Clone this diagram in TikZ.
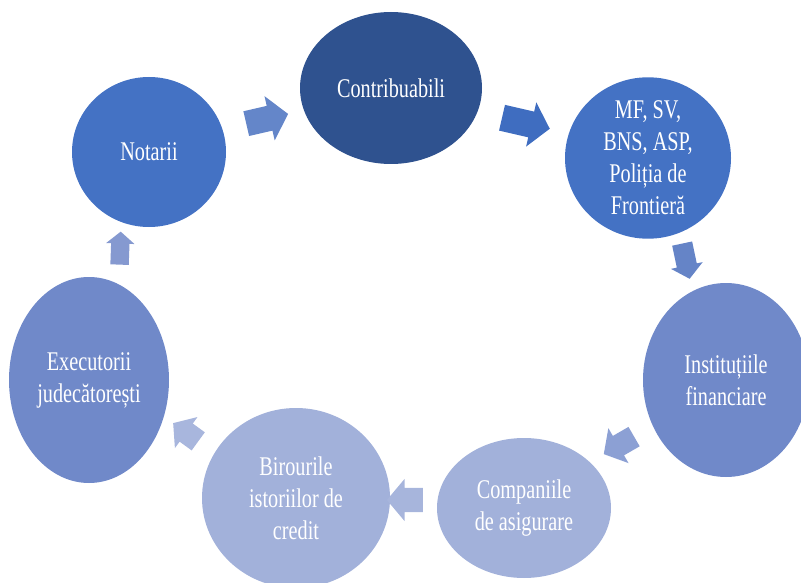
\documentclass[tikz,border=0pt]{standalone}
\usepackage{fontspec}
\newfontfamily\lab[FakeStretch=0.75]{Liberation Serif}
\usetikzlibrary{shapes.geometric,shapes.arrows,calc}
\definecolor{cDark}{HTML}{2F528F}
\definecolor{cMid}{HTML}{4472C4}
\definecolor{cSoft}{HTML}{7089C9}
\definecolor{cPale}{HTML}{A2B1DA}
\definecolor{aOne}{HTML}{6486C9}
\definecolor{aTwo}{HTML}{3F6DC0}
\definecolor{aThree}{HTML}{6584C7}
\definecolor{aFour}{HTML}{8CA0D4}
\definecolor{aFive}{HTML}{A7B5DC}
\definecolor{aSix}{HTML}{A8B6DD}
\definecolor{aSeven}{HTML}{8599D0}
\begin{document}
\begin{tikzpicture}[x=1pt,y=-1pt,
  bubble/.style={ellipse, inner sep=0pt, align=center, text=white,
    font=\lab\fontsize{27}{32}\selectfont},
  blockarrow/.style n args={4}{single arrow, draw=none, fill=#4,
    inner xsep=0pt, inner ysep=#3/2, minimum height=#1, minimum width=#2,
    single arrow head extend={(#2-#3)/2}, single arrow head indent=0pt,
    single arrow tip angle=100}]
\useasboundingbox (0,0) rectangle (801,583);
\clip (0,0) rectangle (801,583);
\node[bubble, fill=cMid,  minimum width=154, minimum height=150] (not) at (149,152) {Notarii};
\node[bubble, fill=cDark, minimum width=182, minimum height=152] (con) at (391,88) {Contribuabili};
\node[bubble, fill=cMid,  minimum width=166, minimum height=150] (mf)  at (648,158) {MF, SV,\\BNS, ASP,\\Poliția de\\Frontieră};
\node[bubble, fill=cSoft, minimum width=166, minimum height=194] (ins) at (726,380) {Instituțiile\\financiare};
\node[bubble, fill=cPale, minimum width=174, minimum height=140] (com) at (524,508) {Companiile\\de asigurare};
\node[bubble, fill=cPale, minimum width=188, minimum height=180] (bir) at (296,498) {Birourile\\istoriilor de\\credit};
\node[bubble, fill=cSoft, minimum width=160, minimum height=206] (exe) at (89,380) {Executorii\\judecătorești};
\node[blockarrow={43}{45}{25}{aOne},   rotate=13]  (a1) at ($(not)!0.5!(con)+(-8,0)$) {};
\node[blockarrow={49}{45}{26}{aTwo},   rotate=-13] (a2) at ($(con)!0.5!(mf)+(1,-1)$) {};
\node[blockarrow={36}{32}{20}{aThree}, rotate=-78] (a3) at ($(mf)!0.5!(ins)+(-2,-12)$) {};
\node[blockarrow={35}{40}{22}{aFour},  rotate=210] (a4) at ($(ins)!0.5!(com)+(-2,-1)$) {};
\node[blockarrow={36}{42}{24}{aFive},  rotate=180] (a5) at ($(com)!0.5!(bir)+(0,-3)$) {};
\node[blockarrow={31}{38}{22}{aSix},   rotate=144] (a6) at ($(bir)!0.5!(exe)+(-3,-4)$) {};
\node[blockarrow={33}{28}{18}{aSeven}, rotate=88]  (a7) at ($(exe)!0.5!(not)+(1,-14)$) {};
\end{tikzpicture}
\end{document}
